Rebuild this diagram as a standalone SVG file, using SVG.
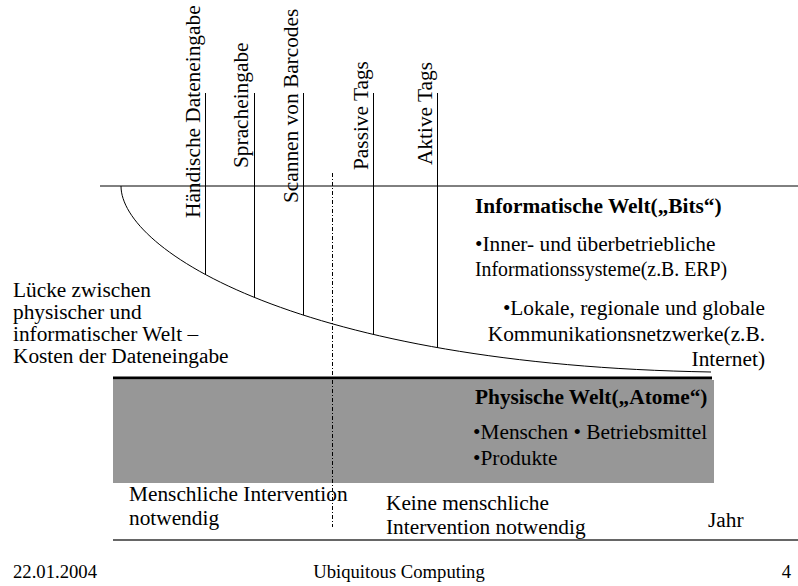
<svg xmlns="http://www.w3.org/2000/svg" width="798" height="586" viewBox="0 0 798 586">
<style>
text{font-family:"Liberation Serif","Times New Roman",serif;font-size:21.33px;fill:#000}
.b{font-weight:bold}
.r{text-anchor:end}
.ft{font-size:18.67px}
.ln{stroke:#000;stroke-width:1;fill:none}
</style>
<defs>
<clipPath id="above">
<path d="M121,186 C121,250 300,365 711,372 L798,372 L798,0 L0,0 L0,186 Z"/>
</clipPath>
</defs>
<rect width="798" height="586" fill="#fff"/>

<g id="physical-area">
<rect x="113" y="380" width="601" height="103" fill="#979797"/>
<line x1="113" y1="378" x2="712" y2="378" stroke="#000" stroke-width="3"/>
</g>

<g id="axes">
<line class="ln" x1="100" y1="186" x2="798" y2="186"/>
<line x1="113" y1="540" x2="798" y2="540" stroke="#333" stroke-width="1.5"/>
<path class="ln" stroke-width="1.3" d="M121,186 C121,250 300,365 711,372"/>
</g>

<g id="connectors" clip-path="url(#above)">
<line class="ln" x1="205.5" y1="93" x2="205.5" y2="420"/>
<line class="ln" x1="254.5" y1="93" x2="254.5" y2="420"/>
<line class="ln" x1="303.5" y1="93" x2="303.5" y2="420"/>
<line class="ln" x1="373.5" y1="93" x2="373.5" y2="420"/>
<line class="ln" x1="437.5" y1="93" x2="437.5" y2="420"/>
</g>
<g id="divider">
<line x1="332.5" y1="173" x2="332.5" y2="527" stroke="#000" stroke-width="1" stroke-dasharray="4 2 1 2"/>
</g>

<g id="method-labels">
<text transform="translate(199.5,218) rotate(-90)">Händische Dateneingabe</text>
<text transform="translate(248,168) rotate(-90)">Spracheingabe</text>
<text transform="translate(297.5,203) rotate(-90)">Scannen von Barcodes</text>
<text transform="translate(367.5,170) rotate(-90)">Passive Tags</text>
<text transform="translate(431.5,165) rotate(-90)">Aktive Tags</text>
</g>

<g id="gap-label">
<text x="13" y="297">Lücke zwischen</text>
<text x="13" y="319">physischer und</text>
<text x="13" y="341">informatischer Welt –</text>
<text x="13" y="363">Kosten der Dateneingabe</text>
</g>

<g id="info-world">
<text class="b" x="475" y="213">Informatische Welt(„Bits“)</text>
<text x="475" y="251">•Inner- und überbetriebliche</text>
<text x="475" y="276" textLength="252" lengthAdjust="spacingAndGlyphs">Informationssysteme(z.B. ERP)</text>
<text class="r" x="765" y="315">•Lokale, regionale und globale</text>
<text class="r" x="765" y="341">Kommunikationsnetzwerke(z.B.</text>
<text class="r" x="765" y="366">Internet)</text>
</g>

<g id="physical-world">
<text class="b" x="475" y="404">Physische Welt(„Atome“)</text>
<text x="473" y="439">•Menschen • Betriebsmittel</text>
<text x="473" y="465">•Produkte</text>
</g>

<g id="intervention-labels">
<text x="129" y="501">Menschliche Intervention</text>
<text x="129" y="525">notwendig</text>
<text x="386" y="510">Keine menschliche</text>
<text x="386" y="534">Intervention notwendig</text>
<text x="708" y="527">Jahr</text>
</g>

<g id="footer">
<text class="ft" x="13" y="578">22.01.2004</text>
<text class="ft" x="399" y="578" text-anchor="middle">Ubiquitous Computing</text>
<text class="ft r" x="791" y="578">4</text>
</g>
</svg>
